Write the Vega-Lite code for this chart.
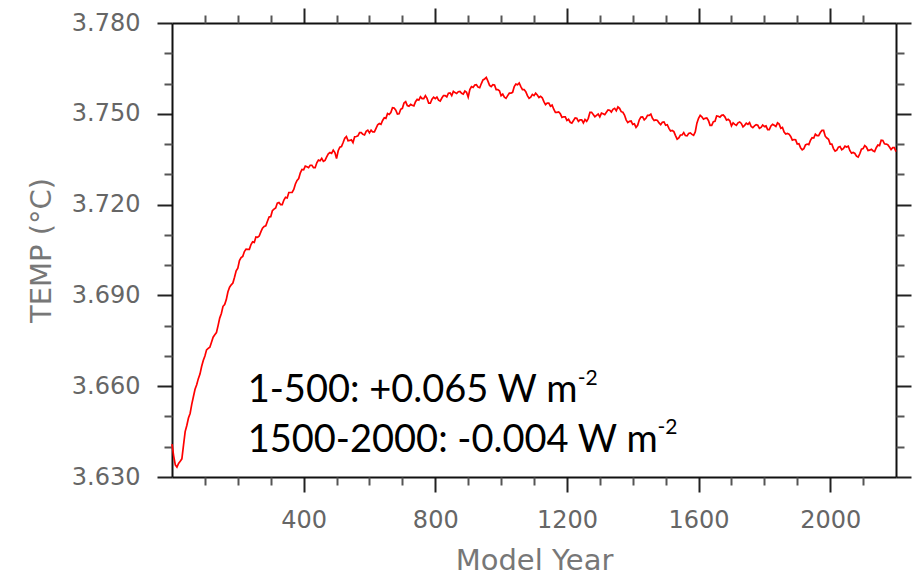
{
  "$schema": "https://vega.github.io/schema/vega-lite/v6.json",
  "width": 724,
  "height": 454,
  "autosize": "none",
  "padding": {"left": 172, "top": 23, "right": 24, "bottom": 101},
  "background": "white",
  "config": {
    "view": {"stroke": null},
    "axis": {
      "grid": false,
      "labelFont": "DejaVu Sans",
      "titleFont": "DejaVu Sans",
      "labelColor": "#666666",
      "titleColor": "#777777",
      "titleFontWeight": "normal",
      "tickColor": "#222222",
      "domainColor": "#111111",
      "domainWidth": 2,
      "tickWidth": 2
    }
  },
  "datasets": {
    "temp": [
      {"year": 0, "temp": 3.6409}, {"year": 5, "temp": 3.637}, {"year": 10, "temp": 3.634}, {"year": 15, "temp": 3.6333},
      {"year": 20, "temp": 3.6345}, {"year": 25, "temp": 3.6352}, {"year": 30, "temp": 3.636}, {"year": 35, "temp": 3.6405},
      {"year": 40, "temp": 3.645}, {"year": 45, "temp": 3.647}, {"year": 50, "temp": 3.6495}, {"year": 55, "temp": 3.651},
      {"year": 60, "temp": 3.654}, {"year": 65, "temp": 3.6565}, {"year": 70, "temp": 3.659}, {"year": 75, "temp": 3.6605},
      {"year": 80, "temp": 3.6625}, {"year": 85, "temp": 3.664}, {"year": 90, "temp": 3.6665}, {"year": 95, "temp": 3.6685},
      {"year": 100, "temp": 3.67}, {"year": 105, "temp": 3.672}, {"year": 110, "temp": 3.6725}, {"year": 115, "temp": 3.6729},
      {"year": 120, "temp": 3.6745}, {"year": 125, "temp": 3.6762}, {"year": 130, "temp": 3.677}, {"year": 135, "temp": 3.6777},
      {"year": 140, "temp": 3.68}, {"year": 145, "temp": 3.6825}, {"year": 150, "temp": 3.684}, {"year": 155, "temp": 3.6864},
      {"year": 160, "temp": 3.687}, {"year": 165, "temp": 3.6886}, {"year": 170, "temp": 3.6912}, {"year": 175, "temp": 3.6927},
      {"year": 180, "temp": 3.6935}, {"year": 185, "temp": 3.6941}, {"year": 190, "temp": 3.696}, {"year": 195, "temp": 3.6981},
      {"year": 200, "temp": 3.699}, {"year": 205, "temp": 3.7015}, {"year": 210, "temp": 3.7025}, {"year": 215, "temp": 3.7029},
      {"year": 220, "temp": 3.7045}, {"year": 225, "temp": 3.7053}, {"year": 230, "temp": 3.7052}, {"year": 235, "temp": 3.7052},
      {"year": 240, "temp": 3.7068}, {"year": 245, "temp": 3.7077}, {"year": 250, "temp": 3.7075}, {"year": 255, "temp": 3.7093},
      {"year": 260, "temp": 3.7092}, {"year": 265, "temp": 3.7096}, {"year": 270, "temp": 3.711}, {"year": 275, "temp": 3.7122},
      {"year": 280, "temp": 3.7128}, {"year": 285, "temp": 3.713}, {"year": 290, "temp": 3.7145}, {"year": 295, "temp": 3.7159},
      {"year": 300, "temp": 3.716}, {"year": 305, "temp": 3.718}, {"year": 310, "temp": 3.7185}, {"year": 315, "temp": 3.7189},
      {"year": 320, "temp": 3.7205}, {"year": 325, "temp": 3.7207}, {"year": 330, "temp": 3.72}, {"year": 335, "temp": 3.72},
      {"year": 340, "temp": 3.7215}, {"year": 345, "temp": 3.7224}, {"year": 350, "temp": 3.7222}, {"year": 355, "temp": 3.724},
      {"year": 360, "temp": 3.724}, {"year": 365, "temp": 3.724}, {"year": 370, "temp": 3.725}, {"year": 375, "temp": 3.7268},
      {"year": 380, "temp": 3.728}, {"year": 385, "temp": 3.7286}, {"year": 390, "temp": 3.7305}, {"year": 395, "temp": 3.7316},
      {"year": 400, "temp": 3.7315}, {"year": 405, "temp": 3.7327}, {"year": 410, "temp": 3.7325}, {"year": 415, "temp": 3.7322},
      {"year": 420, "temp": 3.733}, {"year": 425, "temp": 3.733}, {"year": 430, "temp": 3.7322}, {"year": 435, "temp": 3.7322},
      {"year": 440, "temp": 3.7338}, {"year": 445, "temp": 3.7347}, {"year": 450, "temp": 3.7345}, {"year": 455, "temp": 3.7353},
      {"year": 460, "temp": 3.7343}, {"year": 465, "temp": 3.7346}, {"year": 470, "temp": 3.7358}, {"year": 475, "temp": 3.7368},
      {"year": 480, "temp": 3.7372}, {"year": 485, "temp": 3.7369}, {"year": 490, "temp": 3.738}, {"year": 495, "temp": 3.7372},
      {"year": 500, "temp": 3.7352}, {"year": 505, "temp": 3.7378}, {"year": 510, "temp": 3.739}, {"year": 515, "temp": 3.7392},
      {"year": 520, "temp": 3.7405}, {"year": 525, "temp": 3.7419}, {"year": 530, "temp": 3.7425}, {"year": 535, "temp": 3.7411},
      {"year": 540, "temp": 3.7412}, {"year": 545, "temp": 3.7414}, {"year": 550, "temp": 3.7405}, {"year": 555, "temp": 3.7424},
      {"year": 560, "temp": 3.7425}, {"year": 565, "temp": 3.7427}, {"year": 570, "temp": 3.7438}, {"year": 575, "temp": 3.7438},
      {"year": 580, "temp": 3.7432}, {"year": 585, "temp": 3.743}, {"year": 590, "temp": 3.7442}, {"year": 595, "temp": 3.7446},
      {"year": 600, "temp": 3.7437}, {"year": 605, "temp": 3.7446}, {"year": 610, "temp": 3.744}, {"year": 615, "temp": 3.744},
      {"year": 620, "temp": 3.7452}, {"year": 625, "temp": 3.7464}, {"year": 630, "temp": 3.7468}, {"year": 635, "temp": 3.7465},
      {"year": 640, "temp": 3.7478}, {"year": 645, "temp": 3.7487}, {"year": 650, "temp": 3.7485}, {"year": 655, "temp": 3.7501},
      {"year": 660, "temp": 3.7498}, {"year": 665, "temp": 3.7504}, {"year": 670, "temp": 3.752}, {"year": 675, "temp": 3.7519},
      {"year": 680, "temp": 3.7512}, {"year": 685, "temp": 3.7499}, {"year": 690, "temp": 3.75}, {"year": 695, "temp": 3.7515},
      {"year": 700, "temp": 3.7518}, {"year": 705, "temp": 3.7536}, {"year": 710, "temp": 3.754}, {"year": 715, "temp": 3.7527},
      {"year": 720, "temp": 3.7525}, {"year": 725, "temp": 3.7531}, {"year": 730, "temp": 3.7528}, {"year": 735, "temp": 3.7526},
      {"year": 740, "temp": 3.754}, {"year": 745, "temp": 3.7548}, {"year": 750, "temp": 3.7545}, {"year": 755, "temp": 3.7556},
      {"year": 760, "temp": 3.755}, {"year": 765, "temp": 3.755}, {"year": 770, "temp": 3.756}, {"year": 775, "temp": 3.7551},
      {"year": 780, "temp": 3.7535}, {"year": 785, "temp": 3.7535}, {"year": 790, "temp": 3.7548}, {"year": 795, "temp": 3.7555},
      {"year": 800, "temp": 3.755}, {"year": 805, "temp": 3.7555}, {"year": 810, "temp": 3.7545}, {"year": 815, "temp": 3.7542},
      {"year": 820, "temp": 3.7552}, {"year": 825, "temp": 3.756}, {"year": 830, "temp": 3.756}, {"year": 835, "temp": 3.7556},
      {"year": 840, "temp": 3.7568}, {"year": 845, "temp": 3.7569}, {"year": 850, "temp": 3.756}, {"year": 855, "temp": 3.7574},
      {"year": 860, "temp": 3.757}, {"year": 865, "temp": 3.7567}, {"year": 870, "temp": 3.7573}, {"year": 875, "temp": 3.7574},
      {"year": 880, "temp": 3.7568}, {"year": 885, "temp": 3.7565}, {"year": 890, "temp": 3.7575}, {"year": 895, "temp": 3.7571},
      {"year": 900, "temp": 3.7555}, {"year": 905, "temp": 3.758}, {"year": 910, "temp": 3.759}, {"year": 915, "temp": 3.7587},
      {"year": 920, "temp": 3.7595}, {"year": 925, "temp": 3.7596}, {"year": 930, "temp": 3.7588}, {"year": 935, "temp": 3.7586},
      {"year": 940, "temp": 3.76}, {"year": 945, "temp": 3.7612}, {"year": 950, "temp": 3.7615}, {"year": 955, "temp": 3.762},
      {"year": 960, "temp": 3.7608}, {"year": 965, "temp": 3.7594}, {"year": 970, "temp": 3.759}, {"year": 975, "temp": 3.7596},
      {"year": 980, "temp": 3.7595}, {"year": 985, "temp": 3.758}, {"year": 990, "temp": 3.758}, {"year": 995, "temp": 3.7576},
      {"year": 1000, "temp": 3.756}, {"year": 1005, "temp": 3.7565}, {"year": 1010, "temp": 3.7555}, {"year": 1015, "temp": 3.7551},
      {"year": 1020, "temp": 3.756}, {"year": 1025, "temp": 3.7568}, {"year": 1030, "temp": 3.7568}, {"year": 1035, "temp": 3.7571},
      {"year": 1040, "temp": 3.759}, {"year": 1045, "temp": 3.7598}, {"year": 1050, "temp": 3.7596}, {"year": 1055, "temp": 3.7602},
      {"year": 1060, "temp": 3.759}, {"year": 1065, "temp": 3.758}, {"year": 1070, "temp": 3.758}, {"year": 1075, "temp": 3.7573},
      {"year": 1080, "temp": 3.756}, {"year": 1085, "temp": 3.7551}, {"year": 1090, "temp": 3.7555}, {"year": 1095, "temp": 3.7564},
      {"year": 1100, "temp": 3.756}, {"year": 1105, "temp": 3.7568}, {"year": 1110, "temp": 3.7562}, {"year": 1115, "temp": 3.7554},
      {"year": 1120, "temp": 3.7558}, {"year": 1125, "temp": 3.7553}, {"year": 1130, "temp": 3.754}, {"year": 1135, "temp": 3.753},
      {"year": 1140, "temp": 3.7535}, {"year": 1145, "temp": 3.7535}, {"year": 1150, "temp": 3.7525}, {"year": 1155, "temp": 3.7529},
      {"year": 1160, "temp": 3.7515}, {"year": 1165, "temp": 3.7505}, {"year": 1170, "temp": 3.7505}, {"year": 1175, "temp": 3.7506},
      {"year": 1180, "temp": 3.75}, {"year": 1185, "temp": 3.7488}, {"year": 1190, "temp": 3.749}, {"year": 1195, "temp": 3.749},
      {"year": 1200, "temp": 3.7478}, {"year": 1205, "temp": 3.7482}, {"year": 1210, "temp": 3.7472}, {"year": 1215, "temp": 3.7469},
      {"year": 1220, "temp": 3.7478}, {"year": 1225, "temp": 3.7486}, {"year": 1230, "temp": 3.7485}, {"year": 1235, "temp": 3.7475},
      {"year": 1240, "temp": 3.748}, {"year": 1245, "temp": 3.748}, {"year": 1250, "temp": 3.747}, {"year": 1255, "temp": 3.7481},
      {"year": 1260, "temp": 3.7475}, {"year": 1265, "temp": 3.7485}, {"year": 1270, "temp": 3.7505}, {"year": 1275, "temp": 3.7505},
      {"year": 1280, "temp": 3.7498}, {"year": 1285, "temp": 3.749}, {"year": 1290, "temp": 3.7495}, {"year": 1295, "temp": 3.7499},
      {"year": 1300, "temp": 3.749}, {"year": 1305, "temp": 3.7502}, {"year": 1310, "temp": 3.75}, {"year": 1315, "temp": 3.7497},
      {"year": 1320, "temp": 3.7505}, {"year": 1325, "temp": 3.7513}, {"year": 1330, "temp": 3.7512}, {"year": 1335, "temp": 3.7506},
      {"year": 1340, "temp": 3.7515}, {"year": 1345, "temp": 3.7518}, {"year": 1350, "temp": 3.751}, {"year": 1355, "temp": 3.7523},
      {"year": 1360, "temp": 3.7518}, {"year": 1365, "temp": 3.7507}, {"year": 1370, "temp": 3.7505}, {"year": 1375, "temp": 3.7496},
      {"year": 1380, "temp": 3.748}, {"year": 1385, "temp": 3.7471}, {"year": 1390, "temp": 3.7475}, {"year": 1395, "temp": 3.7476},
      {"year": 1400, "temp": 3.7465}, {"year": 1405, "temp": 3.7467}, {"year": 1410, "temp": 3.7455}, {"year": 1415, "temp": 3.7462},
      {"year": 1420, "temp": 3.748}, {"year": 1425, "temp": 3.7489}, {"year": 1430, "temp": 3.749}, {"year": 1435, "temp": 3.748},
      {"year": 1440, "temp": 3.7485}, {"year": 1445, "temp": 3.7495}, {"year": 1450, "temp": 3.7495}, {"year": 1455, "temp": 3.7499},
      {"year": 1460, "temp": 3.7485}, {"year": 1465, "temp": 3.7478}, {"year": 1470, "temp": 3.748}, {"year": 1475, "temp": 3.7478},
      {"year": 1480, "temp": 3.747}, {"year": 1485, "temp": 3.7464}, {"year": 1490, "temp": 3.7472}, {"year": 1495, "temp": 3.7473},
      {"year": 1500, "temp": 3.7462}, {"year": 1505, "temp": 3.7464}, {"year": 1510, "temp": 3.7452}, {"year": 1515, "temp": 3.7443},
      {"year": 1520, "temp": 3.7445}, {"year": 1525, "temp": 3.7441}, {"year": 1530, "temp": 3.7428}, {"year": 1535, "temp": 3.7416},
      {"year": 1540, "temp": 3.742}, {"year": 1545, "temp": 3.743}, {"year": 1550, "temp": 3.743}, {"year": 1555, "temp": 3.7438},
      {"year": 1560, "temp": 3.7428}, {"year": 1565, "temp": 3.7427}, {"year": 1570, "temp": 3.7435}, {"year": 1575, "temp": 3.7437},
      {"year": 1580, "temp": 3.7432}, {"year": 1585, "temp": 3.7429}, {"year": 1590, "temp": 3.744}, {"year": 1595, "temp": 3.7469},
      {"year": 1600, "temp": 3.7485}, {"year": 1605, "temp": 3.7495}, {"year": 1610, "temp": 3.749}, {"year": 1615, "temp": 3.7482},
      {"year": 1620, "temp": 3.7485}, {"year": 1625, "temp": 3.7486}, {"year": 1630, "temp": 3.7478}, {"year": 1635, "temp": 3.7462},
      {"year": 1640, "temp": 3.7462}, {"year": 1645, "temp": 3.7474}, {"year": 1650, "temp": 3.7475}, {"year": 1655, "temp": 3.7493},
      {"year": 1660, "temp": 3.7492}, {"year": 1665, "temp": 3.7489}, {"year": 1670, "temp": 3.7495}, {"year": 1675, "temp": 3.7496},
      {"year": 1680, "temp": 3.749}, {"year": 1685, "temp": 3.7479}, {"year": 1690, "temp": 3.7482}, {"year": 1695, "temp": 3.7477},
      {"year": 1700, "temp": 3.746}, {"year": 1705, "temp": 3.747}, {"year": 1710, "temp": 3.7465}, {"year": 1715, "temp": 3.7462},
      {"year": 1720, "temp": 3.747}, {"year": 1725, "temp": 3.7473}, {"year": 1730, "temp": 3.7468}, {"year": 1735, "temp": 3.7457},
      {"year": 1740, "temp": 3.7462}, {"year": 1745, "temp": 3.7469}, {"year": 1750, "temp": 3.7465}, {"year": 1755, "temp": 3.7471},
      {"year": 1760, "temp": 3.7458}, {"year": 1765, "temp": 3.7454}, {"year": 1770, "temp": 3.746}, {"year": 1775, "temp": 3.7464},
      {"year": 1780, "temp": 3.7462}, {"year": 1785, "temp": 3.7452}, {"year": 1790, "temp": 3.7455}, {"year": 1795, "temp": 3.7463},
      {"year": 1800, "temp": 3.7458}, {"year": 1805, "temp": 3.746}, {"year": 1810, "temp": 3.7448}, {"year": 1815, "temp": 3.7448},
      {"year": 1820, "temp": 3.746}, {"year": 1825, "temp": 3.7465}, {"year": 1830, "temp": 3.7462}, {"year": 1835, "temp": 3.7458},
      {"year": 1840, "temp": 3.747}, {"year": 1845, "temp": 3.7466}, {"year": 1850, "temp": 3.7452}, {"year": 1855, "temp": 3.7455},
      {"year": 1860, "temp": 3.744}, {"year": 1865, "temp": 3.7433}, {"year": 1870, "temp": 3.7435}, {"year": 1875, "temp": 3.7433},
      {"year": 1880, "temp": 3.7425}, {"year": 1885, "temp": 3.7413}, {"year": 1890, "temp": 3.7415}, {"year": 1895, "temp": 3.7414},
      {"year": 1900, "temp": 3.74}, {"year": 1905, "temp": 3.7401}, {"year": 1910, "temp": 3.7388}, {"year": 1915, "temp": 3.7381},
      {"year": 1920, "temp": 3.7385}, {"year": 1925, "temp": 3.7397}, {"year": 1930, "temp": 3.74}, {"year": 1935, "temp": 3.7398},
      {"year": 1940, "temp": 3.7412}, {"year": 1945, "temp": 3.7421}, {"year": 1950, "temp": 3.742}, {"year": 1955, "temp": 3.7433},
      {"year": 1960, "temp": 3.7428}, {"year": 1965, "temp": 3.7428}, {"year": 1970, "temp": 3.7438}, {"year": 1975, "temp": 3.7445},
      {"year": 1980, "temp": 3.7445}, {"year": 1985, "temp": 3.7426}, {"year": 1990, "temp": 3.742}, {"year": 1995, "temp": 3.7416},
      {"year": 2000, "temp": 3.74}, {"year": 2005, "temp": 3.74}, {"year": 2010, "temp": 3.7385}, {"year": 2015, "temp": 3.7377},
      {"year": 2020, "temp": 3.738}, {"year": 2025, "temp": 3.739}, {"year": 2030, "temp": 3.7392}, {"year": 2035, "temp": 3.7381},
      {"year": 2040, "temp": 3.7385}, {"year": 2045, "temp": 3.7393}, {"year": 2050, "temp": 3.739}, {"year": 2055, "temp": 3.7393},
      {"year": 2060, "temp": 3.7378}, {"year": 2065, "temp": 3.737}, {"year": 2070, "temp": 3.7372}, {"year": 2075, "temp": 3.7369},
      {"year": 2080, "temp": 3.736}, {"year": 2085, "temp": 3.7357}, {"year": 2090, "temp": 3.7368}, {"year": 2095, "temp": 3.7383},
      {"year": 2100, "temp": 3.7385}, {"year": 2105, "temp": 3.7395}, {"year": 2110, "temp": 3.739}, {"year": 2115, "temp": 3.7379},
      {"year": 2120, "temp": 3.738}, {"year": 2125, "temp": 3.7383}, {"year": 2130, "temp": 3.7378}, {"year": 2135, "temp": 3.7375},
      {"year": 2140, "temp": 3.7388}, {"year": 2145, "temp": 3.7397}, {"year": 2150, "temp": 3.7395}, {"year": 2155, "temp": 3.7413},
      {"year": 2160, "temp": 3.7412}, {"year": 2165, "temp": 3.7401}, {"year": 2170, "temp": 3.74}, {"year": 2175, "temp": 3.7398},
      {"year": 2180, "temp": 3.739}, {"year": 2185, "temp": 3.7382}, {"year": 2190, "temp": 3.7388}, {"year": 2195, "temp": 3.7388},
      {"year": 2200, "temp": 3.7375}
    ],
    "notes": [
      {"year": 230, "temp": 3.65485, "label": "1-500: +0.065 W m"},
      {"year": 230, "temp": 3.63824, "label": "1500-2000: -0.004 W m"}
    ],
    "sups": [
      {"year": 1233, "temp": 3.6605, "label": "-2"},
      {"year": 1475, "temp": 3.6442, "label": "-2"}
    ]
  },
  "data": {"name": "temp"},
  "resolve": {"axis": {"x": "independent", "y": "independent"}},
  "layer": [
    {
      "mark": {"type": "line", "color": "#ff0000", "strokeWidth": 1.7},
      "encoding": {
        "x": {
          "field": "year", "type": "quantitative",
          "scale": {"domain": [0, 2200], "nice": false, "zero": false},
          "axis": {
            "orient": "bottom", "values": [400, 800, 1200, 1600, 2000], "format": "d",
            "tickSize": 15, "labelFontSize": 24, "labelPadding": 16,
            "title": "Model Year", "titleFontSize": 29, "titlePadding": 14
          }
        },
        "y": {
          "field": "temp", "type": "quantitative",
          "scale": {"domain": [3.63, 3.78], "nice": false, "zero": false},
          "axis": {
            "orient": "left", "values": [3.63, 3.66, 3.69, 3.72, 3.75, 3.78], "format": ".3f",
            "tickSize": 15, "labelFontSize": 24, "labelPadding": 17,
            "title": "TEMP (°C)", "titleFontSize": 29, "titlePadding": 15
          }
        }
      }
    },
    {
      "mark": {"type": "line", "opacity": 0},
      "encoding": {
        "x": {
          "field": "year", "type": "quantitative",
          "axis": {"orient": "top", "values": [400, 800, 1200, 1600, 2000], "tickSize": 15, "labels": false, "title": null}
        },
        "y": {
          "field": "temp", "type": "quantitative",
          "axis": {"orient": "right", "values": [3.63, 3.66, 3.69, 3.72, 3.75, 3.78], "tickSize": 15, "labels": false, "title": null}
        }
      }
    },
    {
      "mark": {"type": "line", "opacity": 0},
      "encoding": {
        "x": {
          "field": "year", "type": "quantitative",
          "axis": {"orient": "bottom", "values": [100, 200, 300, 500, 600, 700, 900, 1000, 1100, 1300, 1400, 1500, 1700, 1800, 1900, 2100], "tickSize": 8, "tickColor": "#555555", "labels": false, "domain": false, "title": null}
        },
        "y": {
          "field": "temp", "type": "quantitative",
          "axis": {"orient": "left", "values": [3.64, 3.65, 3.67, 3.68, 3.70, 3.71, 3.73, 3.74, 3.76, 3.77], "tickSize": 8, "tickColor": "#555555", "labels": false, "domain": false, "title": null}
        }
      }
    },
    {
      "mark": {"type": "line", "opacity": 0},
      "encoding": {
        "x": {
          "field": "year", "type": "quantitative",
          "axis": {"orient": "top", "values": [100, 200, 300, 500, 600, 700, 900, 1000, 1100, 1300, 1400, 1500, 1700, 1800, 1900, 2100], "tickSize": 8, "tickColor": "#555555", "labels": false, "domain": false, "title": null}
        },
        "y": {
          "field": "temp", "type": "quantitative",
          "axis": {"orient": "right", "values": [3.64, 3.65, 3.67, 3.68, 3.70, 3.71, 3.73, 3.74, 3.76, 3.77], "tickSize": 8, "tickColor": "#555555", "labels": false, "domain": false, "title": null}
        }
      }
    },
    {
      "data": {"name": "notes"},
      "mark": {"type": "text", "align": "left", "baseline": "alphabetic", "font": "Lato", "fontSize": 38, "color": "#000000"},
      "encoding": {
        "x": {"field": "year", "type": "quantitative", "axis": null},
        "y": {"field": "temp", "type": "quantitative", "axis": null},
        "text": {"field": "label"}
      }
    },
    {
      "data": {"name": "sups"},
      "mark": {"type": "text", "align": "left", "baseline": "alphabetic", "font": "Lato", "fontSize": 21, "color": "#000000"},
      "encoding": {
        "x": {"field": "year", "type": "quantitative", "axis": null},
        "y": {"field": "temp", "type": "quantitative", "axis": null},
        "text": {"field": "label"}
      }
    }
  ]
}
